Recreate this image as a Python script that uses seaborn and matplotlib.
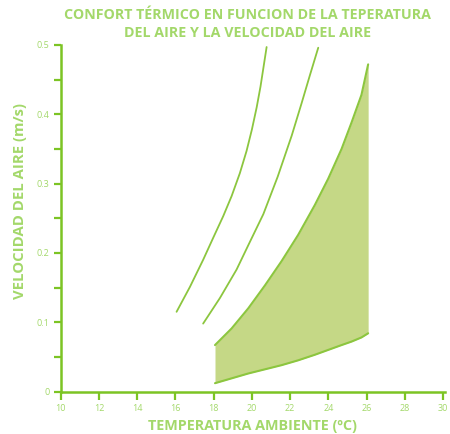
import matplotlib
matplotlib.use("Agg")
from matplotlib import pyplot as plt
import numpy as np
import pandas as pd
import seaborn as sns

# curva 1 (izquierda)
c1_temp = [16.06, 16.76, 17.45, 17.98, 18.50, 18.94, 19.37, 19.72, 20.00, 20.25, 20.45, 20.63, 20.77]
c1_vel = [0.115, 0.151, 0.190, 0.222, 0.253, 0.282, 0.315, 0.347, 0.378, 0.410, 0.440, 0.472, 0.497]
# curva 2
c2_temp = [17.45, 18.33, 19.20, 19.81, 20.60, 21.35, 22.08, 22.60, 23.03, 23.47]
c2_vel = [0.098, 0.135, 0.176, 0.211, 0.256, 0.310, 0.369, 0.416, 0.456, 0.496]
# zona de confort
zona_temp = [18.07, 18.94, 19.81, 20.68, 21.55, 22.42, 23.29, 23.99, 24.69, 25.21, 25.73, 26.08]
zona_sup = [0.067, 0.091, 0.120, 0.153, 0.188, 0.226, 0.269, 0.307, 0.350, 0.388, 0.428, 0.472]
zona_inf = [0.012, 0.019, 0.026, 0.032, 0.038, 0.045, 0.053, 0.060, 0.067, 0.072, 0.078, 0.084]

verde = '#7cc424'
verde_txt = '#a3d86a'
verde_linea = '#8cc63f'
relleno = '#c5d886'

sns.set_style('white')
plt.rcParams['font.family'] = ['Open Sans', 'DejaVu Sans']

fig = plt.figure(figsize=(4.5, 4.34), dpi=100)
ax = fig.add_axes([0.1349, 0.0979, 0.854, 0.7985])

df1 = pd.DataFrame({'t': c1_temp, 'v': c1_vel})
df2 = pd.DataFrame({'t': c2_temp, 'v': c2_vel})
dz = pd.DataFrame({'t': zona_temp, 'sup': zona_sup, 'inf': zona_inf})

ax.fill_between(dz['t'], dz['inf'], dz['sup'], color=relleno, lw=0)
sns.lineplot(data=df1, x='t', y='v', ax=ax, color=verde_linea, lw=1.3, sort=False)
sns.lineplot(data=df2, x='t', y='v', ax=ax, color=verde_linea, lw=1.3, sort=False)
sns.lineplot(data=dz, x='t', y='sup', ax=ax, color=verde_linea, lw=1.5, sort=False)
sns.lineplot(data=dz, x='t', y='inf', ax=ax, color=verde_linea, lw=1.5, sort=False)

ax.set_xlim(10, 30.1)
ax.set_ylim(0, 0.5)
ax.set_xticks(np.arange(10, 31, 2))
ax.set_yticks(np.arange(0, 0.51, 0.05))
ax.set_yticklabels(['0', '', '0.1', '', '0.2', '', '0.3', '', '0.4', '', '0.5'])

for s in ['top', 'right']:
    ax.spines[s].set_visible(False)
for s in ['left', 'bottom']:
    ax.spines[s].set_color(verde)
    ax.spines[s].set_linewidth(1.8)
ax.tick_params(axis='both', colors=verde, width=1.6, length=5, direction='out',
               labelsize=6.5, labelcolor=verde_txt, pad=3, bottom=True, left=True)
ax.tick_params(axis='x', length=6)

ax.set_xlabel('TEMPERATURA AMBIENTE (ºC)', color=verde_txt, fontsize=10.4,
              fontweight='bold', labelpad=4)
ax.set_ylabel('VELOCIDAD DEL AIRE (m/s)', color=verde_txt, fontsize=10.7,
              fontweight='bold')
ax.yaxis.set_label_coords(-0.087, 0.55)
fig.text(0.55, 0.982, 'CONFORT TÉRMICO EN FUNCION DE LA TEPERATURA\nDEL AIRE Y LA VELOCIDAD DEL AIRE',
         ha='center', va='top', color=verde_txt, fontsize=10.3, fontweight='bold',
         linespacing=1.4)

plt.savefig('out.png', dpi=100)
